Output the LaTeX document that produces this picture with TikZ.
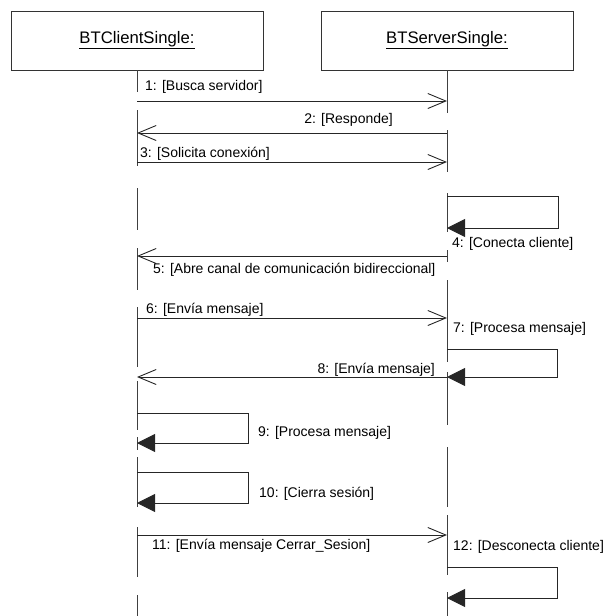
\documentclass[tikz,border=0pt]{standalone}
\usepackage{fontspec}
\setmainfont{Liberation Sans}
\usetikzlibrary{arrows.meta}
\begin{document}
\begin{tikzpicture}[x=1pt,y=-1pt,
  obj/.style={draw=black!80, line width=0.9pt, minimum width=252pt, minimum height=59pt,
    inner sep=0pt, font=\fontsize{16.7}{20}\selectfont},
  life/.style={draw=black!75, line width=0.9pt},
  msg/.style={draw=black!85, line width=0.9pt, -{Straight Barb[length=18pt,width=15pt]}},
  selfmsg/.style={draw=black!85, line width=0.9pt, -{Triangle[length=18pt,width=18pt]}},
  lbl/.style={font=\fontsize{14}{16}\selectfont, inner sep=0pt, anchor=west},
  lblr/.style={lbl, anchor=east},
]
\useasboundingbox (0,0) rectangle (603,616);

% objects
\node[obj] (client) at (137,40.5) {\underline{BTClientSingle:}};
\node[obj] (server) at (447,40.5) {\underline{BTServerSingle:}};

% broken lifelines
\foreach \a/\b in {70/92,110/166,188/230,248/290,307/367,381/430,437/450,457/507,527/577,595/616}
  \draw[life] (137,\a) -- (137,\b);
\foreach \a/\b in {70/113,130/172,193/232,250/262,280/362,372/425,447/507,515/575,592/616}
  \draw[life] (447,\a) -- (447,\b);

% message end points
\coordinate (c1) at (137,101);  \coordinate (s1) at (447,101);
\coordinate (c2) at (137,133);  \coordinate (s2) at (447,133);
\coordinate (c3) at (137,162);  \coordinate (s3) at (447,162);
\coordinate (s4a) at (447,196); \coordinate (s4b) at (447,228);
\coordinate (c5) at (137,256);  \coordinate (s5) at (447,256);
\coordinate (c6) at (137,318);  \coordinate (s6) at (447,318);
\coordinate (s7a) at (447,349); \coordinate (s7b) at (447,377);
\coordinate (c8) at (137,377);  \coordinate (s8) at (447,377);
\coordinate (c9a) at (137,413); \coordinate (c9b) at (137,443);
\coordinate (c10a) at (137,472); \coordinate (c10b) at (137,503);
\coordinate (c11) at (137,535); \coordinate (s11) at (447,535);
\coordinate (s12a) at (447,567); \coordinate (s12b) at (447,598);

% messages
\draw[msg] (c1) -- (s1);
\node[lbl] (l1) at (145,87) {1: [Busca servidor]};
\draw[msg] (s2) -- (c2);
\node[lblr] (l2) at (393,120) {2: [Responde]};
\draw[msg] (c3) -- (s3);
\node[lbl] (l3) at (140,154) {3: [Solicita conexión]};
\draw[selfmsg] (s4a) -- ++(111,0) |- (s4b);
\node[lbl] (l4) at (452,244) {4: [Conecta cliente]};
\draw[msg] (s5) -- (c5);
\node[lbl] (l5) at (153,270) {5: [Abre canal de comunicación bidireccional]};
\draw[msg] (c6) -- (s6);
\node[lbl] (l6) at (146,310) {6: [Envía mensaje]};
\node[lbl] (l7) at (453,329) {7: [Procesa mensaje]};
\draw[selfmsg] (s7a) -- ++(110,0) |- (s7b);
\draw[msg] (s8) -- (c8);
\node[lblr] (l8) at (435,370) {8: [Envía mensaje]};
\draw[selfmsg] (c9a) -- ++(111,0) |- (c9b);
\node[lbl] (l9) at (258,433) {9: [Procesa mensaje]};
\draw[selfmsg] (c10a) -- ++(111,0) |- (c10b);
\node[lbl] (l10) at (259,494) {10: [Cierra sesión]};
\draw[msg] (c11) -- (s11);
\node[lbl] (l11) at (152,546) {11: [Envía mensaje Cerrar\_Sesion]};
\node[lbl] (l12) at (453,547) {12: [Desconecta cliente]};
\draw[selfmsg] (s12a) -- ++(110,0) |- (s12b);
\end{tikzpicture}
\end{document}
